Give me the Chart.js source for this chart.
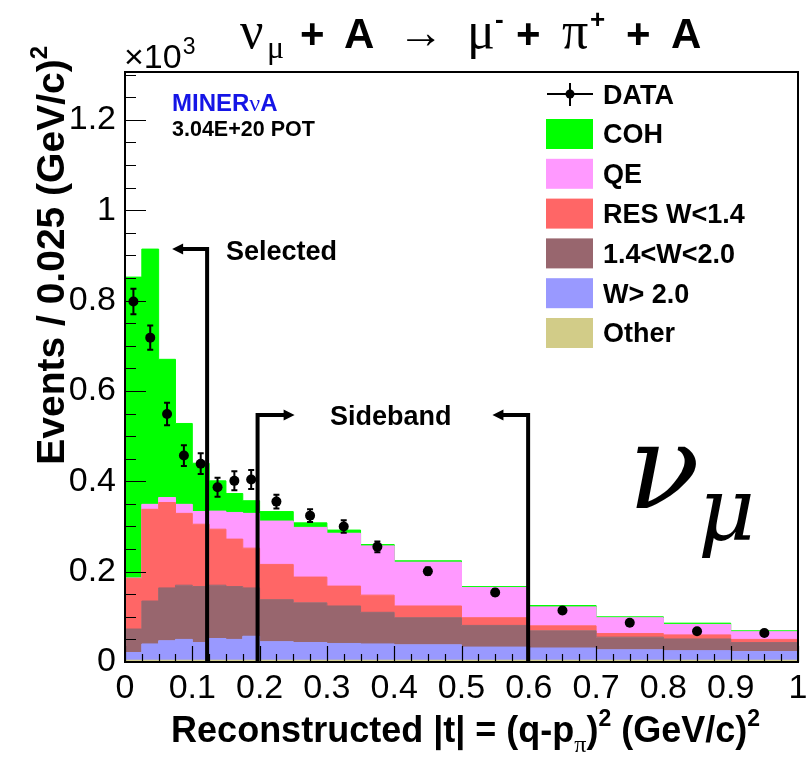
<!DOCTYPE html>
<html>
<head>
<meta charset="utf-8">
<script src="https://cdn.jsdelivr.net/npm/chart.js@4.4.0/dist/chart.umd.min.js"></script>
<style>
  html, body { margin: 0; padding: 0; background: #fff; }
</style>
</head>
<body>
<canvas id="chart" width="806" height="759"></canvas>
<script>
'use strict';

// bin edges of |t| (GeV/c)^2
const binEdges = [0, 0.025, 0.05, 0.075, 0.1, 0.125, 0.15, 0.175, 0.2, 0.25, 0.3, 0.35, 0.4, 0.5, 0.6, 0.7, 0.8, 0.9, 1.0];

// data points (x10^3 events / 0.025 (GeV/c)^2)
const dataValues = [0.798, 0.718, 0.549, 0.457, 0.439, 0.387, 0.401, 0.404, 0.355, 0.324, 0.300, 0.255, 0.201, 0.154, 0.114, 0.087, 0.068, 0.064];
const dataErrors = [0.028, 0.027, 0.025, 0.023, 0.023, 0.021, 0.021, 0.021, 0.015, 0.014, 0.014, 0.012, 0.008, 0.007, 0.006, 0.005, 0.004, 0.004];

// simulation components, bottom to top of the stack
const otherValues = [0.004, 0.004, 0.004, 0.004, 0.004, 0.004, 0.004, 0.004, 0.004, 0.004, 0.004, 0.004, 0.004, 0.004, 0.004, 0.004, 0.004, 0.004];
const wHighValues = [0.017, 0.036, 0.043, 0.046, 0.039, 0.048, 0.046, 0.053, 0.041, 0.039, 0.037, 0.036, 0.034, 0.029, 0.027, 0.023, 0.021, 0.019];
const wMidValues = [0.052, 0.095, 0.117, 0.120, 0.124, 0.118, 0.117, 0.107, 0.093, 0.088, 0.083, 0.070, 0.060, 0.048, 0.038, 0.028, 0.026, 0.020];
const resValues = [0.112, 0.203, 0.189, 0.159, 0.138, 0.124, 0.105, 0.088, 0.078, 0.057, 0.044, 0.038, 0.026, 0.017, 0.011, 0.008, 0.009, 0.007];
const qeValues = [0.001, 0.011, 0.011, 0.020, 0.028, 0.040, 0.059, 0.077, 0.096, 0.110, 0.117, 0.109, 0.097, 0.067, 0.042, 0.035, 0.023, 0.017];
const cohValues = [0.666, 0.565, 0.306, 0.179, 0.107, 0.067, 0.042, 0.028, 0.021, 0.010, 0.007, 0.003, 0.003, 0.002, 0.003, 0.002, 0.003, 0.002];

const xTickLabels = ['0', '0.1', '0.2', '0.3', '0.4', '0.5', '0.6', '0.7', '0.8', '0.9', '1'];
const yTickLabels = ['0', '0.2', '0.4', '0.6', '0.8', '1', '1.2'];

const legendLabels = ['DATA', 'COH', 'QE', 'RES W<1.4', '1.4<W<2.0', 'W> 2.0', 'Other'];
const layerColors = ['#d2cc88', '#9999ff', '#98666e', '#ff6666', '#ff99ff', '#00ff00'];

const SANS = '"Liberation Sans", Arial, Helvetica, sans-serif';
const SERIF = '"Liberation Serif", "Times New Roman", serif';
const MATH = '"DejaVu Serif", "Liberation Serif", serif';
const Y_MAX = 1.306;

const layers = [otherValues, wHighValues, wMidValues, resValues, qeValues, cohValues];
const nBins = binEdges.length - 1;
const centers = dataValues.map((v, i) => (binEdges[i] + binEdges[i + 1]) / 2);

// cumulative tops of the stack
let running = new Array(nBins).fill(0);
const stackDatasets = layers.map((vals, k) => {
    running = running.map((r, i) => r + vals[i]);
    const tops = running.slice();
    return {
        label: legendLabels[legendLabels.length - 1 - k],
        data: binEdges.map((x, i) => ({ x: x, y: tops[Math.min(i, nBins - 1)] })),
        stepped: true,
        fill: k === 0 ? 'origin' : '-1',
        backgroundColor: layerColors[k],
        borderColor: layerColors[k],
        borderWidth: 1,
        pointRadius: 0
    };
});

const dataDataset = {
    label: 'DATA',
    data: centers.map((x, i) => ({ x: x, y: dataValues[i] })),
    showLine: false,
    pointRadius: 5,
    pointBackgroundColor: '#000',
    pointBorderWidth: 0,
    pointHoverRadius: 5
};

function drawParts(ctx, parts, x, y) {
    let cx = x;
    parts.forEach(p => {
        ctx.font = p.font;
        ctx.fillStyle = p.color || '#000';
        const px = p.x !== undefined ? p.x : cx;
        ctx.fillText(p.t, px, y + (p.dy || 0));
        cx = px + ctx.measureText(p.t).width + (p.gap || 0);
    });
    return cx;
}

function partsWidth(ctx, parts) {
    let w = 0;
    parts.forEach(p => {
        ctx.font = p.font;
        w += ctx.measureText(p.t).width + (p.gap || 0);
    });
    return w;
}

function arrowHead(ctx, x, y, dir) {
    ctx.beginPath();
    ctx.moveTo(x, y);
    ctx.lineTo(x - dir * 11, y - 5.5);
    ctx.lineTo(x - dir * 11, y + 5.5);
    ctx.closePath();
    ctx.fill();
}

const rootStyle = {
    id: 'rootStyle',
    afterDatasetsDraw(chart) {
        const { ctx, chartArea: a, scales: { x, y } } = chart;
        ctx.save();

        // error bars
        ctx.strokeStyle = '#000';
        ctx.lineWidth = 2;
        dataValues.forEach((v, i) => {
            const px = x.getPixelForValue(centers[i]);
            const y1 = y.getPixelForValue(v - dataErrors[i]);
            const y2 = y.getPixelForValue(v + dataErrors[i]);
            ctx.beginPath();
            ctx.moveTo(px, y1); ctx.lineTo(px, y2);
            ctx.moveTo(px - 3, y1); ctx.lineTo(px + 3, y1);
            ctx.moveTo(px - 3, y2); ctx.lineTo(px + 3, y2);
            ctx.stroke();
        });

        // ticks inside the frame
        ctx.strokeStyle = '#000';
        ctx.lineWidth = 1.2;
        ctx.beginPath();
        for (let i = 0; i <= 40; i++) {
            const px = Math.round(x.getPixelForValue(i * 0.025)) + 0.5;
            const len = i % 4 === 0 ? 16 : 8;
            ctx.moveTo(px, a.bottom); ctx.lineTo(px, a.bottom - len);
        }
        for (let i = 0; i * 0.05 <= Y_MAX; i++) {
            const py = Math.round(y.getPixelForValue(i * 0.05)) + 0.5;
            const len = i % 4 === 0 ? 21 : 11;
            ctx.moveTo(a.left, py); ctx.lineTo(a.left + len, py);
        }
        ctx.stroke();

        // frame
        ctx.lineWidth = 2;
        ctx.strokeRect(a.left, a.top, a.right - a.left, a.bottom - a.top);

        // selection cuts
        ctx.lineWidth = 4;
        ctx.fillStyle = '#000';
        const cut = (xv, topv, tov) => {
            const px = x.getPixelForValue(xv);
            const py = y.getPixelForValue(topv);
            const tx = x.getPixelForValue(tov);
            const dir = tov > xv ? 1 : -1;
            ctx.beginPath();
            ctx.moveTo(px, a.bottom);
            ctx.lineTo(px, py);
            ctx.lineTo(tx - dir * 8, py);
            ctx.stroke();
            arrowHead(ctx, tx, py, dir);
        };
        cut(0.122, 0.914, 0.070);
        cut(0.197, 0.547, 0.252);
        cut(0.599, 0.547, 0.546);

        ctx.font = 'bold 27px ' + SANS;
        ctx.textBaseline = 'middle';
        ctx.textAlign = 'left';
        ctx.fillText('Selected', 226, 253);
        ctx.fillText('Sideband', 330, 418);

        ctx.restore();
    },
    afterDraw(chart) {
        const { ctx } = chart;
        ctx.save();
        ctx.textBaseline = 'alphabetic';
        ctx.textAlign = 'left';

        // title
        drawParts(ctx, [
            { t: 'ν', font: '52px ' + SERIF, x: 240 },
            { t: 'μ', font: '32px ' + SERIF, dy: 10, x: 267 },
            { t: '+', font: 'bold 42px ' + SANS, x: 300 },
            { t: 'A', font: 'bold 42px ' + SANS, x: 344 },
            { t: '→', font: '46px ' + SERIF, x: 398 },
            { t: 'μ', font: '52px ' + SERIF, x: 467 },
            { t: '-', font: 'bold 26px ' + SANS, dy: -20, x: 495 },
            { t: '+', font: 'bold 42px ' + SANS, x: 516 },
            { t: 'π', font: '52px ' + SERIF, x: 562 },
            { t: '+', font: 'bold 26px ' + SANS, dy: -20, x: 590 },
            { t: '+', font: 'bold 42px ' + SANS, x: 626 },
            { t: 'A', font: 'bold 42px ' + SANS, x: 671 }
        ], 0, 48);

        // exponent
        drawParts(ctx, [
            { t: '×10', font: '34px ' + SANS, gap: 1 },
            { t: '3', font: '23px ' + SANS, dy: -14 }
        ], 124, 68);

        // y title
        const yTitle = [
            { t: 'Events / 0.025 (GeV/c)', font: 'bold 39px ' + SANS },
            { t: '2', font: 'bold 24px ' + SANS, dy: -17 }
        ];
        ctx.save();
        ctx.translate(64, 46);
        ctx.rotate(-Math.PI / 2);
        drawParts(ctx, yTitle, -partsWidth(ctx, yTitle), 0);
        ctx.restore();

        // x title
        const xTitle = [
            { t: 'Reconstructed |t| = (q-p', font: 'bold 36px ' + SANS },
            { t: 'π', font: '24px ' + SERIF, dy: 10 },
            { t: ')', font: 'bold 36px ' + SANS },
            { t: '2', font: 'bold 23px ' + SANS, dy: -16 },
            { t: ' (GeV/c)', font: 'bold 36px ' + SANS },
            { t: '2', font: 'bold 23px ' + SANS, dy: -16 }
        ];
        drawParts(ctx, xTitle, 760 - partsWidth(ctx, xTitle), 742);

        // experiment label
        drawParts(ctx, [
            { t: 'MINER', font: 'bold 24px ' + SANS, color: '#1515e6' },
            { t: 'ν', font: '24px ' + SERIF, color: '#1515e6' },
            { t: 'A', font: 'bold 24px ' + SANS, color: '#1515e6' }
        ], 172, 111);
        drawParts(ctx, [{ t: '3.04E+20 POT', font: 'bold 21.5px ' + SANS }], 172, 136);

        // big nu_mu
        drawParts(ctx, [
            { t: 'ν', font: 'italic 118px ' + MATH, x: 628 },
            { t: 'μ', font: 'italic 88px ' + MATH, dy: 32, x: 698 }
        ], 0, 508);

        // legend
        ctx.fillStyle = '#000';
        ctx.strokeStyle = '#000';
        ctx.lineWidth = 2;
        ctx.beginPath();
        ctx.moveTo(547, 94); ctx.lineTo(593, 94);
        ctx.moveTo(570, 83); ctx.lineTo(570, 106);
        ctx.stroke();
        ctx.beginPath();
        ctx.arc(570, 94, 4.5, 0, Math.PI * 2);
        ctx.fill();
        ctx.font = 'bold 27px ' + SANS;
        ctx.textBaseline = 'middle';
        ctx.fillText(legendLabels[0], 603, 97);
        for (let k = 1; k < legendLabels.length; k++) {
            const cy = 134 + (k - 1) * 39.8;
            ctx.fillStyle = layerColors[layerColors.length - k];
            ctx.fillRect(546, cy - 15, 47, 30);
            ctx.fillStyle = '#000';
            ctx.fillText(legendLabels[k], 603, cy + 2);
        }
        ctx.restore();
    }
};

const ctx = document.getElementById('chart').getContext('2d');
new Chart(ctx, {
    type: 'line',
    data: { datasets: [dataDataset].concat(stackDatasets) },
    options: {
        responsive: false,
        animation: false,
        devicePixelRatio: 1,
        layout: { padding: { top: 72, right: 8, left: 0, bottom: 0 } },
        plugins: {
            legend: { display: false },
            tooltip: { enabled: false },
            title: { display: false }
        },
        scales: {
            x: {
                type: 'linear',
                min: 0,
                max: 1,
                grid: { display: false, drawTicks: false },
                border: { display: false },
                ticks: {
                    stepSize: 0.1,
                    autoSkip: false,
                    maxRotation: 0,
                    padding: 6,
                    color: '#000',
                    font: { family: SANS, size: 34 },
                    callback: v => xTickLabels[Math.round(v * 10)]
                },
                afterFit: s => { s.height = 97; s.paddingLeft = 0; s.paddingRight = 0; }
            },
            y: {
                type: 'linear',
                min: 0,
                max: Y_MAX,
                grid: { display: false, drawTicks: false },
                border: { display: false },
                ticks: {
                    stepSize: 0.2,
                    includeBounds: false,
                    padding: 9,
                    color: '#000',
                    font: { family: SANS, size: 34 },
                    callback: v => yTickLabels[Math.round(v / 0.2)]
                },
                afterFit: s => { s.width = 125; s.paddingTop = 0; s.paddingBottom = 0; }
            }
        }
    },
    plugins: [rootStyle]
});
</script>
</body>
</html>
